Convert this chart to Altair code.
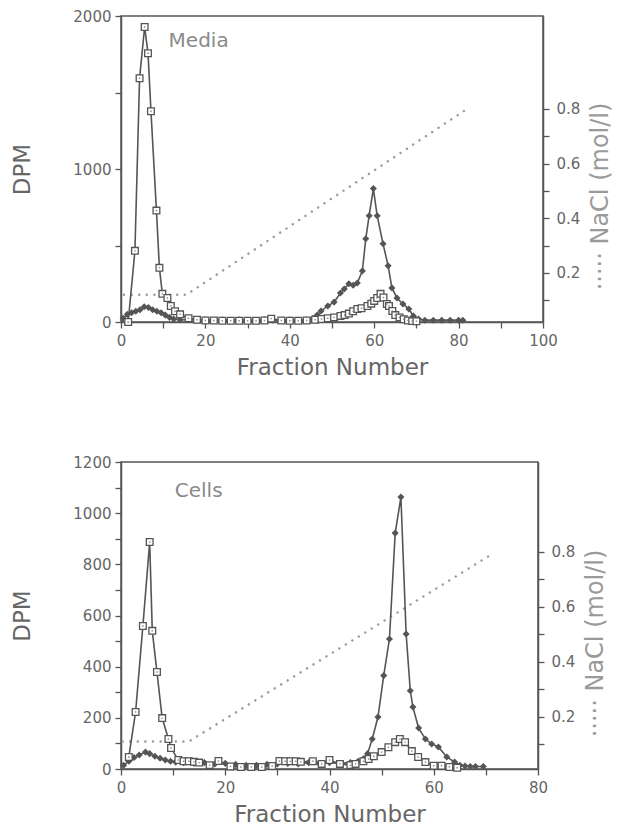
import altair as alt
import pandas as pd

# ---------------- data ----------------
# Media panel
MEDIA_SQ_X = [1.7, 3.3, 4.4, 5.6, 6.4, 7.1, 8.4, 9.1, 9.8, 11.0, 11.8, 12.8, 14.0, 16, 18, 20, 22, 24, 26, 28,
              30, 32, 34, 35.6, 38, 40, 42, 44, 46, 47.5, 49, 50.5, 52, 53, 54, 55, 56, 57, 58.4, 59.3,
              60, 60.7, 61.5, 62.2, 63, 63.5, 64.3, 65, 66, 67, 68, 69, 70]
MEDIA_SQ_Y = [0, 465, 1593, 1928, 1757, 1377, 728, 354, 184, 157, 105, 70, 50, 25, 15, 10, 10, 8, 8, 8,
              8, 8, 10, 22, 10, 8, 8, 10, 15, 20, 25, 30, 40, 45, 55, 70, 85, 90, 105, 120,
              138, 157, 184, 160, 118, 105, 72, 45, 30, 18, 10, 6, 5]
MEDIA_DI_X = [0.5, 1.5, 2.5, 3.5, 4.5, 5.5, 6.5, 7.5, 8.5, 9.5, 10.5, 11.5, 12.5, 14, 16, 18, 20, 22, 24, 26,
              28, 30, 32, 34, 36, 38, 40, 42, 44, 45.5, 46.5, 47.4, 49, 50.5, 52, 52.9, 54, 55, 56, 57.2,
              58, 58.8, 59.8, 60.7, 62.1, 63.3, 64.2, 65.4, 66.8, 68.2, 69.3, 70.5, 72, 74, 76, 78, 80, 81]
MEDIA_DI_Y = [25, 50, 60, 70, 80, 100, 95, 80, 70, 60, 45, 30, 20, 15, 15, 12, 15, 12, 15, 12,
              15, 12, 12, 15, 12, 12, 15, 12, 15, 25, 45, 72, 105, 130, 190, 216, 250, 240, 255, 334,
              544, 695, 872, 695, 511, 367, 223, 157, 118, 85, 39, 20, 12, 12, 12, 12, 12, 12]
MEDIA_NACL_X = [0.7, 15.5, 82]
MEDIA_NACL_Y = [0.12, 0.12, 0.80]

# Cells panel
CELLS_SQ_X = [1.5, 2.8, 4.2, 5.5, 6.0, 6.9, 7.9, 9.1, 9.6, 11, 12, 13, 14, 15, 17, 18.7, 21, 23, 25, 27,
              29, 30.4, 31.5, 32.5, 33.5, 34.5, 36.8, 38.5, 40, 42, 44, 45, 46.5, 47.5, 48.5, 50, 51.3, 52.6, 53.5, 54.5,
              55.8, 57, 58.4, 60, 61.5, 63, 64.5]
CELLS_SQ_Y = [47, 223, 559, 887, 540, 379, 199, 117, 82, 35, 30, 30, 28, 25, 15, 31, 10, 8, 8, 8,
              12, 31, 30, 30, 30, 28, 30, 20, 35, 20, 15, 20, 30, 39, 50, 66, 85, 105, 117, 105,
              70, 47, 27, 13, 13, 8, 5]
CELLS_DI_X = [0.5, 1.5, 2.5, 3.5, 4.7, 5.5, 6.5, 7.5, 8.5, 9.5, 10.5, 12, 14, 16, 18, 20, 22, 24, 26, 28,
              30, 32, 34, 36, 38, 40, 42, 44, 45.5, 46.5, 47.3, 48.2, 49.3, 50.4, 51.5, 52.6, 53.7, 54.7, 55.5, 56.0,
              57.1, 58.4, 59.6, 60.9, 62.5, 64, 65, 66, 67, 68, 69.5]
CELLS_DI_Y = [15, 30, 45, 55, 66, 60, 50, 42, 35, 30, 27, 25, 22, 25, 20, 22, 18, 15, 15, 18,
              20, 22, 20, 25, 22, 25, 22, 25, 30, 40, 60, 117, 203, 365, 508, 922, 1063, 528, 306, 242,
              160, 117, 98, 86, 47, 27, 15, 12, 10, 10, 10]
CELLS_NACL_X = [0.3, 13, 71]
CELLS_NACL_Y = [0.11, 0.11, 0.79]

NACL_TICKS = [0.1, 0.2, 0.3, 0.4, 0.5, 0.6, 0.7, 0.8]

# ---------------- style ----------------
FONT = "DejaVu Sans"
INK = "#555555"
TXT = "#666666"
LIGHT = "#9a9a9a"


def panel(sq_x, sq_y, di_x, di_y, na_x, na_y, label, lab_x, lab_y,
          xmax, ymax, ystep, ylab_step, na_dom, w, h, title_y):
    sq = pd.DataFrame({"f": sq_x, "dpm": sq_y})
    di = pd.DataFrame({"f": di_x, "dpm": di_y})
    na = pd.DataFrame({"f": na_x, "nacl": na_y})
    lab = pd.DataFrame({"f": [lab_x], "dpm": [lab_y], "t": [label]})

    X = alt.X("f:Q",
              scale=alt.Scale(domain=[0, xmax], nice=False, zero=False),
              axis=alt.Axis(values=list(range(0, xmax + 1, 10)),
                            labelExpr="datum.value % 20 === 0 ? datum.label : ''",
                            title="Fraction Number", tickSize=6, labelPadding=5,
                            titlePadding=8, labelFontSize=15, titleFontSize=23,
                            domainWidth=1.5, tickWidth=1.3, labelFlush=False))
    Y = alt.Y("dpm:Q",
              scale=alt.Scale(domain=[0, ymax], nice=False, zero=False),
              axis=alt.Axis(orient="left", values=list(range(0, ymax + 1, ystep)),
                            labelExpr=f"datum.value % {ylab_step} === 0 ? format(datum.value, 'd') : ''",
                            title="DPM", tickSize=6, labelPadding=4, titlePadding=38,
                            labelFontSize=15, titleFontSize=23, domainWidth=1.5,
                            tickWidth=1.3, labelFlush=False))
    YN = alt.Y("nacl:Q",
               scale=alt.Scale(domain=na_dom, nice=False, zero=False),
               axis=alt.Axis(orient="right", values=NACL_TICKS,
                             labelExpr="round(datum.value * 10) % 2 === 0 ? format(datum.value, '.1f') : ''",
                             title="····· NaCl (mol/l)", titleAngle=270, titleBaseline="top",
                             titleColor=LIGHT, tickSize=6, labelPadding=7, titlePadding=9,
                             labelFontSize=15, titleFontSize=24, domainWidth=1.5,
                             tickWidth=1.3, labelFlush=False, titleY=title_y))

    nacl = alt.Chart(na).mark_line(color=LIGHT, strokeWidth=2.4, strokeDash=[0.1, 7.5],
                                   strokeCap="round").encode(x=X, y=YN)

    di_line = alt.Chart(di).mark_line(color=INK, strokeWidth=1.6).encode(x=X, y=Y)
    di_pts = alt.Chart(di).mark_point(shape="diamond", filled=True, color=INK, size=50,
                                      opacity=1).encode(x=X, y=Y)
    sq_line = alt.Chart(sq).mark_line(color=INK, strokeWidth=1.6).encode(x=X, y=Y)
    sq_pts = alt.Chart(sq).mark_point(shape="square", filled=True, fill="white", stroke=INK,
                                      strokeWidth=1.3, size=45, opacity=1).encode(x=X, y=Y)
    sq_dot = alt.Chart(sq).mark_point(shape="square", filled=True, color="#888888", size=2,
                                      opacity=1).encode(x=X, y=Y)
    txt = alt.Chart(lab).mark_text(font=FONT, fontSize=20, color="#8a8a8a",
                                   align="center", baseline="middle").encode(x=X, y=Y, text="t:N")

    dpm = alt.layer(di_line, di_pts, sq_line, sq_pts, sq_dot, txt)
    return alt.layer(nacl, dpm).resolve_scale(y="independent").properties(width=w, height=h)


top = panel(MEDIA_SQ_X, MEDIA_SQ_Y, MEDIA_DI_X, MEDIA_DI_Y, MEDIA_NACL_X, MEDIA_NACL_Y,
            "Media", 18.4, 1836, 100, 2000, 500, 1000, [0.02, 1.14], 422, 306, 180)
bottom = panel(CELLS_SQ_X, CELLS_SQ_Y, CELLS_DI_X, CELLS_DI_Y, CELLS_NACL_X, CELLS_NACL_Y,
               "Cells", 14.9, 1087, 80, 1200, 100, 200, [0.01, 1.127], 417, 307, 181)

chart = alt.vconcat(top, bottom, spacing=74).properties(
    padding={"left": 3, "top": 0, "right": 0, "bottom": 0}
).configure_view(
    stroke=INK, strokeWidth=1.5
).configure_axis(
    grid=False, domainColor=INK, tickColor=INK, labelColor=TXT, titleColor=TXT,
    labelFont=FONT, titleFont=FONT, titleFontWeight="normal"
)

chart.save("out.html", embed_options={"renderer": "svg", "actions": False})
